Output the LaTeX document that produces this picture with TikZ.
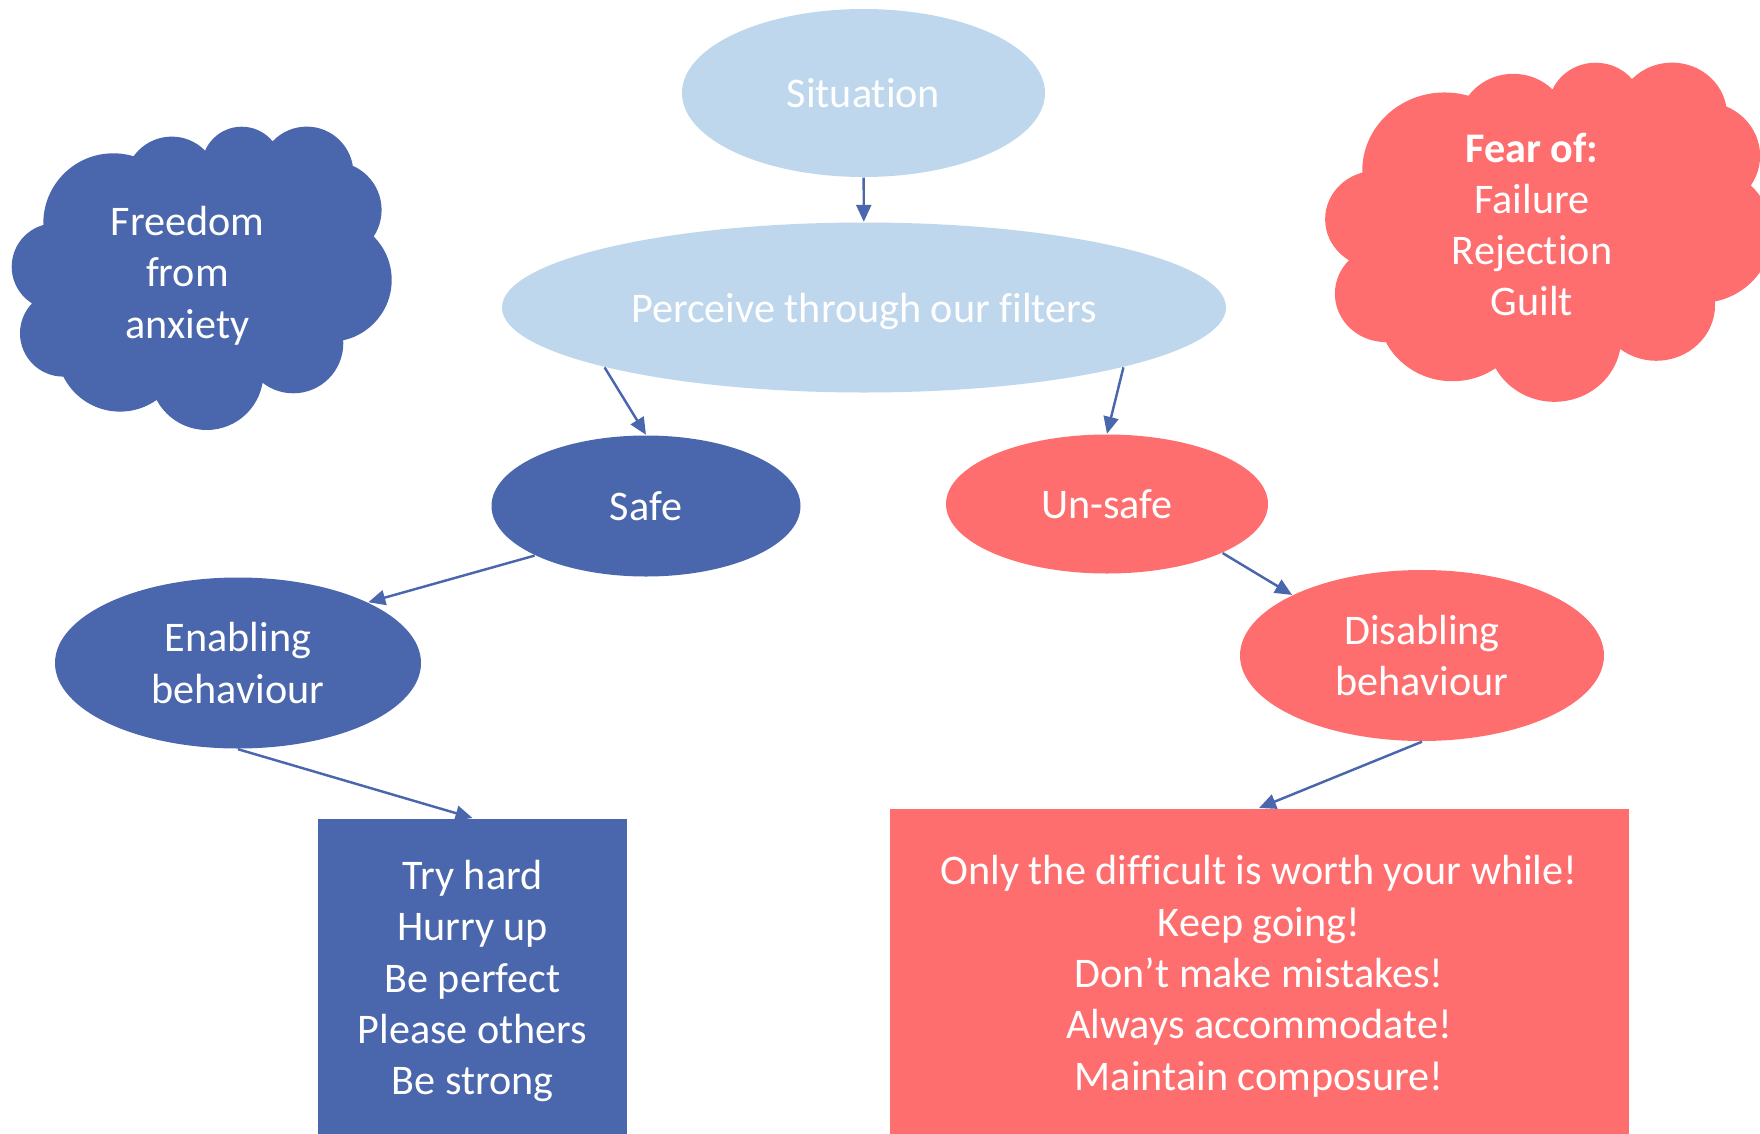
\documentclass[tikz,border=0pt]{standalone}
\usepackage{fontspec}
\setmainfont{Carlito}[Ligatures=NoCommon]
\usepackage{tikz}
\usetikzlibrary{shapes.geometric,arrows.meta}

\definecolor{darkblue}{HTML}{4A66AC}
\definecolor{paleblue}{HTML}{BFD7ED}
\definecolor{coral}{HTML}{FF6E6E}

% puffy cloud, drawn round (0,0)
\newcommand{\cloudshape}[1]{%
  \fill[#1] (-0.875,0.55) circle (0.70) (-0.291,0.95) circle (0.467)
    (0.409,1.116) circle (0.40) (1.059,1.05) circle (0.467)
    (1.325,0.683) circle (0.483) (1.292,-0.017) circle (0.617)
    (0.925,-0.65) circle (0.50) (0.059,-0.95) circle (0.567)
    (-0.808,-0.70) circle (0.633) (-1.375,-0.55) circle (0.433)
    (-1.458,0.116) circle (0.433) (-0.008,0.05) circle (1.167);}

\begin{document}
\begin{tikzpicture}
        \useasboundingbox (0,0) rectangle (17.6,-11.34);
        \clip (0,0) rectangle (17.6,-11.34);
        \tikzstyle{label} = [text=white,align=center,inner sep=0pt,
          font=\fontsize{12}{14.6}\selectfont]
        \tikzstyle{oval} = [label,ellipse]
        \tikzstyle{block} = [label,rectangle,anchor=north]
        \tikzstyle{link} = [-{Triangle[length=1.7mm,width=1.5mm]},
          draw=darkblue,line width=0.7pt]
        % clouds
        \begin{scope}[shift={(2.008,-2.783)}]
          \cloudshape{darkblue}
        \end{scope}
        \begin{scope}[shift={(15.475,-2.322)},xscale=1.176,yscale=1.118]
          \cloudshape{coral}
        \end{scope}
        \node[label] (freedom) at (1.875,-2.755) {Freedom\\from\\anxiety};
        \node[label] (fear) at (15.32,-2.245)
          {\textbf{Fear of:}\\Failure\\Rejection\\Guilt};
        % ovals
        \node[oval,fill=paleblue,minimum width=3.63cm,minimum height=1.68cm,
          text depth=0pt] (sit) at (8.635,-0.93) {Situation};
        \node[oval,fill=paleblue,minimum width=7.24cm,minimum height=1.70cm,
          text depth=0pt] (per) at (8.64,-3.075) {Perceive through our filters};
        \node[oval,fill=darkblue,minimum width=3.09cm,minimum height=1.41cm]
          (safe) at (6.46,-5.06) {Safe};
        \node[oval,fill=coral,minimum width=3.22cm,minimum height=1.39cm]
          (uns) at (11.07,-5.04) {Un-safe};
        \node[oval,fill=darkblue,minimum width=3.66cm,minimum height=1.71cm]
          (ena) at (2.38,-6.63) {Enabling\\behaviour};
        \node[oval,fill=coral,minimum width=3.64cm,minimum height=1.71cm]
          (dis) at (14.22,-6.555) {Disabling\\behaviour};
        % boxes
        \node[block,fill=darkblue,minimum width=3.09cm,minimum height=3.25cm]
          (try) at (4.725,-8.18)
          {Try hard\\Hurry up\\Be perfect\\Please others\\Be strong};
        \node[block,fill=coral,minimum width=7.39cm,minimum height=3.35cm]
          (only) at (12.59,-8.08)
          {Only the difficult is worth your while!\\Keep going!\\
           Don’t make mistakes!\\Always accommodate!\\Maintain composure!};
        % arrows
        \draw [link] (sit) -- (per);
        \draw [link] (per.193) -- (safe.north);
        \draw [link] (per.-13) -- (uns.north);
        \draw [link] (safe.204) -- (ena.25);
        \draw [link] (uns.-23) -- (dis.155);
        \draw [link] (ena.south) -- (try.north);
        \draw [link] (dis.south) -- (only.north);
\end{tikzpicture}
\end{document}
